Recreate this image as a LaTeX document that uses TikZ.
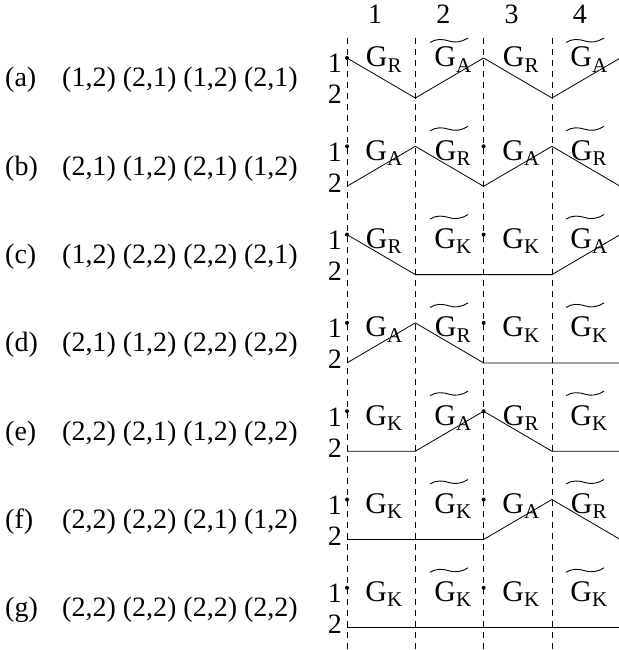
\documentclass[tikz,border=0pt]{standalone}
\usepackage{fontspec}
\setmainfont{Liberation Serif}
\begin{document}
\begin{tikzpicture}[x=1pt,y=-1pt,
  gridline/.style={dash pattern=on 6pt off 5pt, line width=0.7pt},
  trace/.style={line width=0.8pt},
  tildeline/.style={line width=0.9pt},
  dotpt/.style={circle, fill, inner sep=0pt, minimum size=4pt},
  lbl/.style={inner sep=0pt, anchor=base, font=\fontsize{28}{30}\selectfont},
  glbl/.style={inner sep=0pt, anchor=base, font=\fontsize{30}{32}\selectfont},
  rowlbl/.style={inner sep=0pt, anchor=base west, font=\fontsize{28}{30}\selectfont}]
\useasboundingbox (0,0) rectangle (618,650);
\foreach \k/\x in {1/347,2/415.3,3/483.6,4/551.9}{
  \coordinate (t\k) at (\x,38);
  \coordinate (b\k) at (\x,650);
  \draw[gridline] (t\k) -- (b\k);
  \node[lbl] (h\k) at (\x+28,24) {\k};
}
\foreach \i/\lab/\txt/\la/\lb/\lc/\ld/\le/\sa/\sb/\sc/\sd/\dd/\go in {
  0/a/{(1,2) (2,1) (1,2) (2,1)}/1/2/1/2/1/R/A/R/A/0/9,
  1/b/{(2,1) (1,2) (2,1) (1,2)}/2/1/2/1/2/A/R/A/R/1/14,
  2/c/{(1,2) (2,2) (2,2) (2,1)}/1/2/2/2/1/R/K/K/A/1/14,
  3/d/{(2,1) (1,2) (2,2) (2,2)}/2/1/2/2/2/A/R/K/K/1/14,
  4/e/{(2,2) (2,1) (1,2) (2,2)}/2/2/1/2/2/K/A/R/K/1/14,
  5/f/{(2,2) (2,2) (2,1) (1,2)}/2/2/2/1/2/K/K/A/R/1/14,
  6/g/{(2,2) (2,2) (2,2) (2,2)}/2/2/2/2/2/K/K/K/K/1/14}{
  \pgfmathsetmacro\yo{58+88.3*\i}
  \node[rowlbl] (r\i) at (5,\yo+29) {(\lab)};
  \node[rowlbl] (s\i) at (62,\yo+29) {\txt};
  \node[lbl, anchor=base east] (one\i) at (342,\yo+15) {1};
  \node[lbl, anchor=base east] (two\i) at (342,\yo+46) {2};
  \foreach \k/\l in {0/\la,1/\lb,2/\lc,3/\ld,4/\le}
    \coordinate (p\i-\k) at (347+68.3*\k, \yo+40*\l-40);
  \draw[trace] (p\i-0) -- (p\i-1) -- (p\i-2) -- (p\i-3) -- (p\i-4);
  \node[dotpt] (da\i) at (347,\yo) {};
  \ifnum\dd=1 \node[dotpt] (db\i) at (483.6,\yo) {};\fi
  \node[glbl] (ga\i) at (384,\yo+\go) {G\textsubscript{\sa}};
  \node[glbl] (gb\i) at (453,\yo+\go) {G\textsubscript{\sb}};
  \node[glbl] (gc\i) at (521,\yo+\go) {G\textsubscript{\sc}};
  \node[glbl] (gd\i) at (589,\yo+\go) {G\textsubscript{\sd}};
  \foreach \c/\cx in {b/453,d/589}{
    \coordinate (tc\c\i) at (\cx,\yo);
    \draw[tildeline] ([shift={(-23,-15.5)}]tc\c\i)
      .. controls ([shift={(-17,-19.5)}]tc\c\i) and ([shift={(-10,-19)}]tc\c\i) .. ([shift={(-4,-17)}]tc\c\i)
      .. controls ([shift={(2,-15)}]tc\c\i) and ([shift={(9,-16)}]tc\c\i) .. ([shift={(15,-20)}]tc\c\i);
  }
}
\end{tikzpicture}
\end{document}
